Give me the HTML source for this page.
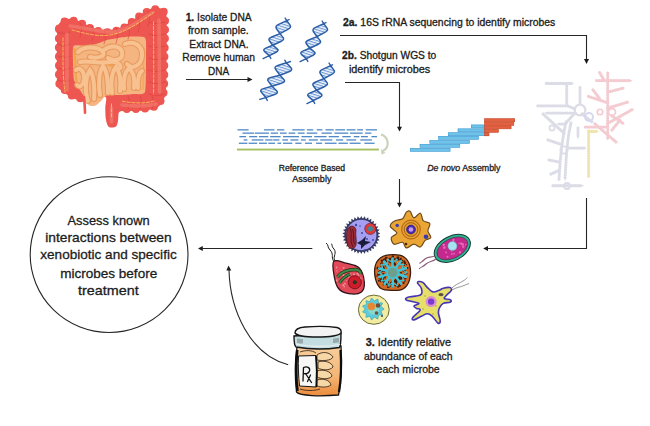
<!DOCTYPE html>
<html><head><meta charset="utf-8">
<style>
html,body{margin:0;padding:0;background:#fff;width:650px;height:426px;overflow:hidden;}
svg{position:absolute;left:0;top:0;display:block;}
text{font-family:"Liberation Sans",sans-serif;fill:#1c1c1c;stroke:#1c1c1c;stroke-width:0.3px;}
</style></head><body>
<svg width="650" height="426" viewBox="0 0 650 426">
<defs><filter id="sb" x="-5%" y="-5%" width="110%" height="110%"><feGaussianBlur stdDeviation="0.4"/></filter></defs>
<rect width="650" height="426" fill="#fff"/>
<g id="rrna" opacity="0.85" fill="none" stroke-linecap="round" stroke-linejoin="round">
  <g stroke="#d9d9e5" stroke-width="1.3">
    <path d="M546.3,83.3 H573"/>
    <path d="M566.7,83.3 V104.4"/>
    <path d="M537.8,105.8 H567.4 L575,109"/>
    <path d="M580,87.5 V103"/>
    <path d="M575,113 L545,113"/>
    <path d="M575,113 L565,124 L557.5,124"/>
    <path d="M543,114 L565,134"/>
    <path d="M566,122 C562,140 560,160 559,180"/>
    <path d="M571,123 C567,140 566,160 565,180"/>
    <path d="M553,185.7 H583"/>
    <path d="M569,148 H585"/>
    <path d="M548,140 L560,144"/>
    <path d="M549,160 L559,162"/>
    <path d="M551,174 L560,170"/>
    <path d="M578,128 V138"/>
    <path d="M582,114 L592,122"/>
  </g>
  <g stroke="#d6d6e3" stroke-width="3.2" stroke-dasharray="0.1 2.4">
    <path d="M546.3,83.3 H573"/>
    <path d="M566.7,83.3 V104.4"/>
    <path d="M537.8,105.8 H567.4 L575,109"/>
    <path d="M580,87.5 V103"/>
    <path d="M575,113 L545,113"/>
    <path d="M575,113 L565,124 L557.5,124"/>
    <path d="M543,114 L565,134"/>
    <path d="M566,122 C562,140 560,160 559,180"/>
    <path d="M571,123 C567,140 566,160 565,180"/>
    <path d="M553,185.7 H583"/>
    <path d="M569,148 H585"/>
    <path d="M548,140 L560,144"/>
    <path d="M549,160 L559,162"/>
    <path d="M551,174 L560,170"/>
    <path d="M578,128 V138"/>
    <path d="M582,114 L592,122"/>
  </g>
  <circle cx="580" cy="110" r="5.4" stroke="#d6d6e3" stroke-width="2.2"/>
  <circle cx="564" cy="150" r="3.6" stroke="#d6d6e3" stroke-width="1.8"/>
  <circle cx="567" cy="186" r="3" stroke="#d6d6e3" stroke-width="1.8"/>
  <circle cx="552" cy="128" r="2.6" stroke="#d6d6e3" stroke-width="1.6"/>
  <circle cx="589" cy="117" r="4" stroke="#cfd3ec" stroke-width="2"/>
  <g stroke="#f3c6cc" stroke-width="1.3">
    <path d="M607.7,73 V139"/>
    <path d="M596.6,80.6 H631.4"/>
    <path d="M599.7,72.7 L604,80"/>
    <path d="M588.6,96.5 L607.7,102.8"/>
    <path d="M593,90 L600,99"/>
    <path d="M607.7,123.4 L633,109.1"/>
    <path d="M595,124 L616,142"/>
    <path d="M585.5,127 H607.7"/>
    <path d="M612,130 L620,120"/>
    <path d="M608,92 L624,88"/>
    <path d="M608,108 L628,102"/>
    <path d="M612,116 L624,124"/>
  </g>
  <g stroke="#f1c2c8" stroke-width="3.2" stroke-dasharray="0.1 2.4">
    <path d="M607.7,73 V139"/>
    <path d="M596.6,80.6 H631.4"/>
    <path d="M599.7,72.7 L604,80"/>
    <path d="M588.6,96.5 L607.7,102.8"/>
    <path d="M593,90 L600,99"/>
    <path d="M607.7,123.4 L633,109.1"/>
    <path d="M595,124 L616,142"/>
    <path d="M585.5,127 H607.7"/>
    <path d="M612,130 L620,120"/>
    <path d="M608,92 L624,88"/>
    <path d="M608,108 L628,102"/>
    <path d="M612,116 L624,124"/>
  </g>
  <circle cx="612" cy="112" r="3.5" stroke="#f1c2c8" stroke-width="1.8"/>
  <circle cx="600" cy="112" r="2.8" stroke="#f1c2c8" stroke-width="1.6"/>
  <g stroke="#f0e2a8" stroke-width="1.3"><path d="M588.6,131 V177.3"/><path d="M588.6,131.3 H598"/></g>
  <g stroke="#efdfa0" stroke-width="3.2" stroke-dasharray="0.1 2.4"><path d="M588.6,131 V177.3"/><path d="M588.6,131.3 H598"/></g>
</g>

<defs><filter id="soft" x="-10%" y="-10%" width="120%" height="120%"><feGaussianBlur stdDeviation="0.45"/></filter></defs><g id="intestine" filter="url(#soft)">
<path d="M57.5,27.0 C58.1,24.2 59.7,22.6 61.0,21.4 C62.3,20.2 63.9,19.3 66.0,19.0 C68.1,18.7 72.2,18.8 75.0,19.5 C77.8,20.2 82.2,22.7 85.0,24.0 C87.8,25.3 90.6,27.1 94.0,28.0 C97.4,28.9 103.6,30.1 107.7,30.0 C111.8,29.9 117.8,28.7 121.5,27.2 C125.2,25.7 129.5,22.3 132.6,20.2 C135.7,18.1 139.2,15.2 142.3,13.3 C145.4,11.4 150.6,8.5 153.4,7.8 C156.2,7.1 159.1,7.9 161.0,8.5 C162.9,9.1 165.1,8.8 166.0,12.0 C166.9,15.2 166.7,22.8 166.8,30.0 C166.9,37.2 166.6,51.0 166.5,60.0 C166.4,69.0 166.5,83.8 166.0,90.0 C165.5,96.2 164.2,98.5 163.0,101.0 C161.8,103.5 160.2,105.7 158.0,107.0 C155.8,108.3 151.8,109.4 148.4,110.0 C145.0,110.6 138.4,110.8 135.0,111.0 C131.6,111.2 127.7,110.9 125.4,111.0 C123.2,111.1 121.0,111.0 120.0,111.5 C119.0,112.0 118.8,112.6 118.5,114.0 C118.2,115.4 118.4,119.1 118.0,121.0 C117.6,122.9 117.3,125.6 116.0,126.5 C114.7,127.4 110.5,128.0 109.0,127.0 C107.5,126.0 106.6,122.8 106.0,120.0 C105.4,117.2 105.3,111.4 105.3,108.0 C105.3,104.6 106.8,99.3 106.0,97.5 C105.2,95.7 103.0,96.2 100.0,96.0 C97.0,95.8 89.2,95.4 86.0,96.0 C82.8,96.6 81.1,99.6 78.7,99.8 C76.3,100.0 72.7,98.3 70.3,97.0 C67.9,95.7 64.9,92.7 63.0,91.0 C61.1,89.3 58.3,90.1 57.4,85.4 C56.5,80.8 56.9,66.8 56.8,60.0 C56.7,53.2 56.9,45.0 57.0,40.0 C57.1,35.0 56.9,29.8 57.5,27.0Z" fill="#ee5651"/>
<path d="M59.2,28.4 C59.7,27.5 61.4,24.1 62.6,22.9 C63.8,21.8 65.4,20.9 67.5,20.6 C69.5,20.4 73.5,20.5 76.3,21.3 C79.1,22.1 83.3,24.6 86.1,25.9 C88.9,27.2 91.6,29.1 94.9,30.0 C98.1,31.0 104.0,32.3 107.9,32.2 C111.8,32.1 117.4,30.8 121.0,29.3 C124.6,27.8 128.7,24.3 131.7,22.2 C134.8,20.1 138.2,17.1 141.2,15.2 C144.3,13.3 149.4,10.4 152.2,9.6 C154.9,8.9 157.8,9.6 159.6,10.2 C161.5,10.8 163.7,10.4 164.5,13.6 C165.3,16.8 165.0,24.3 165.0,31.3 C165.0,38.3 164.5,51.7 164.3,60.4 C164.2,69.1 164.4,83.3 163.9,89.2 C163.5,95.1 162.3,97.4 161.1,99.9 C160.0,102.3 158.4,104.3 156.3,105.6 C154.2,106.9 150.3,107.9 146.9,108.4 C143.6,108.9 137.2,109.0 133.9,109.1 C130.6,109.2 126.8,108.9 124.7,108.9 C122.5,109.0 120.3,109.3 119.6,109.3" fill="none" stroke="#ee5651" stroke-width="8" stroke-dasharray="0 9" stroke-linecap="round"/>
<path d="M80.3,98.3 C79.1,97.9 74.4,97.0 72.1,95.8 C69.8,94.5 66.9,91.8 65.0,90.1 C63.1,88.5 60.4,89.2 59.5,84.8 C58.6,80.3 59.1,66.9 59.0,60.4 C58.9,53.8 58.9,45.8 58.9,41.0 C59.0,36.2 58.7,31.1 59.2,28.4 C59.8,25.6 62.1,23.7 62.6,22.9" fill="none" stroke="#ee5651" stroke-width="8" stroke-dasharray="0 9" stroke-linecap="round"/>
<path d="M73.5,46.0 C74.6,44.5 81.8,45.7 84.0,45.5 C86.2,45.3 93.7,44.5 96.0,44.0 C98.3,43.5 104.8,40.6 107.0,40.0 C109.2,39.4 115.7,38.4 118.0,38.0 C120.3,37.6 127.4,36.6 130.0,36.5 C132.6,36.4 142.4,36.5 144.0,37.0 C145.6,37.5 145.8,39.7 146.0,42.0 C146.2,44.3 146.1,55.0 146.0,60.0 C145.9,65.0 146.2,88.6 145.0,92.0 C143.8,95.4 136.4,93.7 134.0,94.0 C131.6,94.3 123.7,94.9 121.0,95.0 C118.3,95.1 109.0,94.4 107.0,95.0 C105.0,95.6 102.1,100.0 101.0,101.0 C99.9,102.0 96.8,105.0 95.6,105.5 C94.4,106.0 90.4,106.2 89.3,105.5 C88.2,104.8 85.9,99.5 85.0,98.0 C84.1,96.5 81.1,91.8 80.0,90.0 C78.9,88.2 74.7,83.0 74.0,80.0 C73.3,77.0 73.0,63.4 73.0,60.0 C73.0,56.6 72.4,47.5 73.5,46.0Z" fill="#f4b580"/>
<path d="M74,48 C76,60 75,75 77,88" fill="none" stroke="#f3a23a" stroke-width="2.2" opacity="0.8"/>
<path d="M104,62 C108,66 112,66 116,68" fill="none" stroke="#f2a43c" stroke-width="2" opacity="0.8"/>
<path d="M144,48 C143,62 144,78 143,90" fill="none" stroke="#f3a23a" stroke-width="1.6" opacity="0.6"/>
<path d="M78,52 C84,46 98,46 103,52 C106,56 98,59 90,57" fill="none" stroke="#e69356" stroke-width="6.2" stroke-linecap="round" opacity="0.8"/>
<path d="M104,50 C110,45 120,45 122,52 C124,60 114,62 108,58" fill="none" stroke="#e69356" stroke-width="6.2" stroke-linecap="round" opacity="0.8"/>
<path d="M125,44 C134,40 143,46 142,56 C141,66 132,70 127,64" fill="none" stroke="#e69356" stroke-width="6.2" stroke-linecap="round" opacity="0.8"/>
<path d="M80,62 C88,60 100,64 110,62 C118,61 122,66 120,68" fill="none" stroke="#e69356" stroke-width="6.2" stroke-linecap="round" opacity="0.8"/>
<path d="M88,101 C84,90 86,76 90,70 C94,76 95,90 94,99" fill="none" stroke="#e69356" stroke-width="6.2" stroke-linecap="round" opacity="0.8"/>
<path d="M100,95 C98,84 99,72 103,66 C108,72 108,84 108,93" fill="none" stroke="#e69356" stroke-width="6.2" stroke-linecap="round" opacity="0.8"/>
<path d="M112,93 C110,82 112,72 116,67 C120,72 121,82 120,91" fill="none" stroke="#e69356" stroke-width="6.2" stroke-linecap="round" opacity="0.8"/>
<path d="M124,89 C123,80 125,72 129,68 C134,72 135,80 134,88" fill="none" stroke="#e69356" stroke-width="6.2" stroke-linecap="round" opacity="0.8"/>
<path d="M138,88 C137,80 139,73 142,71" fill="none" stroke="#e69356" stroke-width="6.2" stroke-linecap="round" opacity="0.8"/>
<path d="M76,70 C80,66 85,72 84,80 C83,86 79,88 77,85" fill="none" stroke="#e69356" stroke-width="6.2" stroke-linecap="round" opacity="0.8"/>
<path d="M78,52 C84,46 98,46 103,52 C106,56 98,59 90,57" fill="none" stroke="#f8c596" stroke-width="4" stroke-linecap="round" opacity="0.9"/>
<path d="M104,50 C110,45 120,45 122,52 C124,60 114,62 108,58" fill="none" stroke="#f8c596" stroke-width="4" stroke-linecap="round" opacity="0.9"/>
<path d="M125,44 C134,40 143,46 142,56 C141,66 132,70 127,64" fill="none" stroke="#f8c596" stroke-width="4" stroke-linecap="round" opacity="0.9"/>
<path d="M80,62 C88,60 100,64 110,62 C118,61 122,66 120,68" fill="none" stroke="#f8c596" stroke-width="4" stroke-linecap="round" opacity="0.9"/>
<path d="M88,101 C84,90 86,76 90,70 C94,76 95,90 94,99" fill="none" stroke="#f8c596" stroke-width="4" stroke-linecap="round" opacity="0.9"/>
<path d="M100,95 C98,84 99,72 103,66 C108,72 108,84 108,93" fill="none" stroke="#f8c596" stroke-width="4" stroke-linecap="round" opacity="0.9"/>
<path d="M112,93 C110,82 112,72 116,67 C120,72 121,82 120,91" fill="none" stroke="#f8c596" stroke-width="4" stroke-linecap="round" opacity="0.9"/>
<path d="M124,89 C123,80 125,72 129,68 C134,72 135,80 134,88" fill="none" stroke="#f8c596" stroke-width="4" stroke-linecap="round" opacity="0.9"/>
<path d="M138,88 C137,80 139,73 142,71" fill="none" stroke="#f8c596" stroke-width="4" stroke-linecap="round" opacity="0.9"/>
<path d="M76,70 C80,66 85,72 84,80 C83,86 79,88 77,85" fill="none" stroke="#f8c596" stroke-width="4" stroke-linecap="round" opacity="0.9"/>
<g fill="none" stroke="#d9403e" stroke-width="1.1" opacity="0.55" stroke-linecap="round"><path d="M58,32 C62,34 66,34 70,32"/><path d="M58,44 C62,46 66,46 70,44"/><path d="M58,56 C62,58 66,58 70,56"/><path d="M58,68 C62,70 66,70 70,68"/><path d="M58,80 C62,82 66,82 70,80"/><path d="M149,22 C154,24 159,24 165,22"/><path d="M149,34 C154,36 159,36 165,34"/><path d="M149,46 C154,48 159,48 165,46"/><path d="M149,58 C154,60 159,60 165,58"/><path d="M149,70 C154,72 159,72 165,70"/><path d="M149,82 C154,84 159,84 165,82"/><path d="M149,94 C154,96 159,96 165,94"/><path d="M80,22 C82,27 82,32 80,37"/><path d="M92,26 C94,31 94,36 92,41"/><path d="M104,29 C106,34 106,39 104,44"/><path d="M116,28 C118,33 118,38 116,43"/><path d="M128,24 C130,29 130,34 128,39"/><path d="M138,17 C140,22 140,27 138,32"/><path d="M148,11 C150,16 150,21 148,26"/><path d="M128,96 C130,100 130,104 128,109"/><path d="M140,96 C142,100 142,104 140,109"/><path d="M152,96 C154,100 154,104 152,109"/></g>
<g fill="none" stroke="#f48676" stroke-width="3.5" opacity="0.55" stroke-linecap="round">
<path d="M67,34 L67,90"/><path d="M70,26 C88,28 102,33 114,32 C126,31 138,21 152,13"/><path d="M159,20 L159.5,92"/><path d="M156,104 C145,107 132,106 122,105"/><path d="M111.5,108 L111.5,122"/>
</g>
<g fill="none" stroke="#f8c35a" stroke-width="0.9" stroke-dasharray="3 1.8" stroke-linecap="round">
<path d="M63,38 C63,55 62.5,75 65,92"/><path d="M72,30 C84,33 96,37 110,35 C124,33 138,24 154,12"/><path d="M153.5,22 C153.5,45 154,70 153.5,94"/><path d="M154,101 C144,104 132,103 121,101"/><path d="M111.5,104 L111.5,118"/>
</g>
<path d="M84,97 C84.5,103 85,108 85,112.7" fill="none" stroke="#ee5651" stroke-width="2.6" stroke-linecap="round"/>
</g>
<g filter="url(#sb)">
<defs><pattern id="hatch" width="2.6" height="2.6" patternUnits="userSpaceOnUse" patternTransform="rotate(18)"><rect width="2.6" height="2.6" fill="#f3f6fc"/><rect y="0" width="2.6" height="1.1" fill="#6a98d6"/></pattern></defs>
<g id="dna">
<path d="M272.70,45.20 C269.09,46.74 265.80,48.15 265.80,48.15 Q262.40,49.60 264.68,51.58 L269.30,55.60 L276.07,52.25 Q279.40,50.60 277.19,48.82 Z" fill="url(#hatch)" stroke="#2b5ea6" stroke-width="1.5" stroke-linejoin="round"/>
<path d="M280.00,33.60 C275.71,35.35 271.79,36.95 271.79,36.95 Q267.75,38.60 269.38,40.78 L272.70,45.20 L280.77,41.45 Q284.75,39.60 283.18,37.62 Z" fill="url(#hatch)" stroke="#2b5ea6" stroke-width="1.5" stroke-linejoin="round"/>
<path d="M286.70,20.60 C282.52,22.60 278.69,24.42 278.69,24.42 Q274.75,26.30 276.48,28.71 L280.00,33.60 L287.87,29.38 Q291.75,27.30 290.08,25.09 Z" fill="url(#hatch)" stroke="#2b5ea6" stroke-width="1.5" stroke-linejoin="round"/>
<path d="M263.1,58.6 L269.3,55.6 L270.8,58.4" stroke="#2b5ea6" stroke-width="1.4" stroke-linecap="round" fill="none"/>
<path d="M285.1,18.0 L286.7,20.6 L289.0,19.6" stroke="#2b5ea6" stroke-width="1.4" stroke-linecap="round" fill="none"/>
<path d="M309.70,48.20 C306.09,49.74 302.80,51.15 302.80,51.15 Q299.40,52.60 301.68,54.58 L306.30,58.60 L313.07,55.25 Q316.40,53.60 314.19,51.82 Z" fill="url(#hatch)" stroke="#2b5ea6" stroke-width="1.5" stroke-linejoin="round"/>
<path d="M317.00,36.60 C312.71,38.35 308.79,39.95 308.79,39.95 Q304.75,41.60 306.38,43.78 L309.70,48.20 L317.77,44.45 Q321.75,42.60 320.18,40.62 Z" fill="url(#hatch)" stroke="#2b5ea6" stroke-width="1.5" stroke-linejoin="round"/>
<path d="M323.70,23.60 C319.52,25.60 315.69,27.42 315.69,27.42 Q311.75,29.30 313.48,31.71 L317.00,36.60 L324.87,32.38 Q328.75,30.30 327.08,28.09 Z" fill="url(#hatch)" stroke="#2b5ea6" stroke-width="1.5" stroke-linejoin="round"/>
<path d="M300.1,61.6 L306.3,58.6 L307.8,61.4" stroke="#2b5ea6" stroke-width="1.4" stroke-linecap="round" fill="none"/>
<path d="M322.1,21.0 L323.7,23.6 L326,22.6" stroke="#2b5ea6" stroke-width="1.4" stroke-linecap="round" fill="none"/>
<path d="M272.00,86.30 C267.56,87.51 263.49,88.61 263.49,88.61 Q259.30,89.75 261.44,92.34 L265.80,97.60 L274.58,94.55 Q278.90,93.05 276.62,90.82 Z" fill="url(#hatch)" stroke="#2b5ea6" stroke-width="1.5" stroke-linejoin="round"/>
<path d="M280.00,75.20 C275.24,76.37 270.89,77.44 270.89,77.44 Q266.40,78.55 268.25,81.11 L272.00,86.30 L281.38,83.32 Q286.00,81.85 284.02,79.66 Z" fill="url(#hatch)" stroke="#2b5ea6" stroke-width="1.5" stroke-linejoin="round"/>
<path d="M286.40,62.80 C281.92,64.20 277.82,65.48 277.82,65.48 Q273.60,66.80 275.71,69.57 L280.00,75.20 L288.84,71.78 Q293.20,70.10 290.96,67.69 Z" fill="url(#hatch)" stroke="#2b5ea6" stroke-width="1.5" stroke-linejoin="round"/>
<path d="M259.8,99.4 L265.8,97.6 L267.3,100.4" stroke="#2b5ea6" stroke-width="1.4" stroke-linecap="round" fill="none"/>
<path d="M284.8,60.2 L286.4,62.8 L290.5,61.5" stroke="#2b5ea6" stroke-width="1.4" stroke-linecap="round" fill="none"/>
<path d="M316.60,90.20 C312.99,91.74 309.70,93.15 309.70,93.15 Q306.30,94.60 308.58,96.58 L313.20,100.60 L319.97,97.25 Q323.30,95.60 321.09,93.82 Z" fill="url(#hatch)" stroke="#2b5ea6" stroke-width="1.5" stroke-linejoin="round"/>
<path d="M323.90,78.60 C319.61,80.35 315.69,81.95 315.69,81.95 Q311.65,83.60 313.28,85.78 L316.60,90.20 L324.67,86.45 Q328.65,84.60 327.08,82.62 Z" fill="url(#hatch)" stroke="#2b5ea6" stroke-width="1.5" stroke-linejoin="round"/>
<path d="M330.60,65.60 C326.42,67.59 322.59,69.42 322.59,69.42 Q318.65,71.30 320.38,73.71 L323.90,78.60 L331.77,74.38 Q335.65,72.30 333.98,70.09 Z" fill="url(#hatch)" stroke="#2b5ea6" stroke-width="1.5" stroke-linejoin="round"/>
<path d="M307,103.6 L313.2,100.6 L314.7,103.4" stroke="#2b5ea6" stroke-width="1.4" stroke-linecap="round" fill="none"/>
<path d="M329.0,63.0 L330.6,65.6 L332.5,64.8" stroke="#2b5ea6" stroke-width="1.4" stroke-linecap="round" fill="none"/>
</g>
<g id="assembly">
<rect x="237.5" y="129.2" width="11.1" height="1.3" fill="#4f89c8"/>
<rect x="264.0" y="129.2" width="10.5" height="1.3" fill="#4f89c8"/>
<rect x="277.0" y="129.2" width="7.3" height="1.3" fill="#4f89c8"/>
<rect x="292.3" y="129.2" width="12.3" height="1.3" fill="#4f89c8"/>
<rect x="306.9" y="129.2" width="6.4" height="1.3" fill="#4f89c8"/>
<rect x="316.7" y="129.2" width="5.7" height="1.3" fill="#4f89c8"/>
<rect x="325.5" y="129.2" width="8.3" height="1.3" fill="#4f89c8"/>
<rect x="335.4" y="129.2" width="9.6" height="1.3" fill="#4f89c8"/>
<rect x="346.6" y="129.2" width="8.9" height="1.3" fill="#4f89c8"/>
<rect x="357.2" y="129.2" width="5.8" height="1.3" fill="#4f89c8"/>
<rect x="365.8" y="129.2" width="11.2" height="1.3" fill="#4f89c8"/>
<rect x="242.5" y="132.5" width="11.6" height="1.3" fill="#4f89c8"/>
<rect x="254.8" y="132.5" width="14.1" height="1.3" fill="#4f89c8"/>
<rect x="270.7" y="132.5" width="7.3" height="1.3" fill="#4f89c8"/>
<rect x="280.0" y="132.5" width="6.7" height="1.3" fill="#4f89c8"/>
<rect x="288.6" y="132.5" width="6.7" height="1.3" fill="#4f89c8"/>
<rect x="297.8" y="132.5" width="6.8" height="1.3" fill="#4f89c8"/>
<rect x="306.7" y="132.5" width="10.6" height="1.3" fill="#4f89c8"/>
<rect x="321.6" y="132.5" width="10.2" height="1.3" fill="#4f89c8"/>
<rect x="334.5" y="132.5" width="13.8" height="1.3" fill="#4f89c8"/>
<rect x="350.0" y="132.5" width="12.7" height="1.3" fill="#4f89c8"/>
<rect x="365.1" y="132.5" width="6.3" height="1.3" fill="#4f89c8"/>
<rect x="239.4" y="136.0" width="6.7" height="1.3" fill="#4f89c8"/>
<rect x="249.2" y="136.0" width="8.0" height="1.3" fill="#4f89c8"/>
<rect x="259.0" y="136.0" width="9.3" height="1.3" fill="#4f89c8"/>
<rect x="270.1" y="136.0" width="10.5" height="1.3" fill="#4f89c8"/>
<rect x="283.0" y="136.0" width="16.0" height="1.3" fill="#4f89c8"/>
<rect x="301.5" y="136.0" width="10.5" height="1.3" fill="#4f89c8"/>
<rect x="314.3" y="136.0" width="12.3" height="1.3" fill="#4f89c8"/>
<rect x="328.7" y="136.0" width="10.2" height="1.3" fill="#4f89c8"/>
<rect x="342.3" y="136.0" width="8.4" height="1.3" fill="#4f89c8"/>
<rect x="353.8" y="136.0" width="5.6" height="1.3" fill="#4f89c8"/>
<rect x="361.0" y="136.0" width="6.9" height="1.3" fill="#4f89c8"/>
<rect x="371.4" y="136.0" width="5.6" height="1.3" fill="#4f89c8"/>
<rect x="243.7" y="139.3" width="3.7" height="1.3" fill="#4f89c8"/>
<rect x="251.7" y="139.3" width="11.7" height="1.3" fill="#4f89c8"/>
<rect x="265.2" y="139.3" width="7.4" height="1.3" fill="#4f89c8"/>
<rect x="273.2" y="139.3" width="6.2" height="1.3" fill="#4f89c8"/>
<rect x="282.4" y="139.3" width="5.6" height="1.3" fill="#4f89c8"/>
<rect x="290.4" y="139.3" width="8.0" height="1.3" fill="#4f89c8"/>
<rect x="300.9" y="139.3" width="4.9" height="1.3" fill="#4f89c8"/>
<rect x="308.8" y="139.3" width="9.1" height="1.3" fill="#4f89c8"/>
<rect x="320.2" y="139.3" width="12.1" height="1.3" fill="#4f89c8"/>
<rect x="336.0" y="139.3" width="7.2" height="1.3" fill="#4f89c8"/>
<rect x="346.4" y="139.3" width="9.7" height="1.3" fill="#4f89c8"/>
<rect x="360.3" y="139.3" width="11.6" height="1.3" fill="#4f89c8"/>
<rect x="238.8" y="142.6" width="8.6" height="1.3" fill="#4f89c8"/>
<rect x="248.6" y="142.6" width="8.6" height="1.3" fill="#4f89c8"/>
<rect x="259.0" y="142.6" width="8.0" height="1.3" fill="#4f89c8"/>
<rect x="268.3" y="142.6" width="6.7" height="1.3" fill="#4f89c8"/>
<rect x="277.5" y="142.6" width="3.7" height="1.3" fill="#4f89c8"/>
<rect x="283.0" y="142.6" width="9.3" height="1.3" fill="#4f89c8"/>
<rect x="295.3" y="142.6" width="6.2" height="1.3" fill="#4f89c8"/>
<rect x="305.0" y="142.6" width="7.0" height="1.3" fill="#4f89c8"/>
<rect x="316.0" y="142.6" width="6.1" height="1.3" fill="#4f89c8"/>
<rect x="324.8" y="142.6" width="11.8" height="1.3" fill="#4f89c8"/>
<rect x="338.5" y="142.6" width="9.4" height="1.3" fill="#4f89c8"/>
<rect x="349.6" y="142.6" width="11.0" height="1.3" fill="#4f89c8"/>
<rect x="364.4" y="142.6" width="10.2" height="1.3" fill="#4f89c8"/>
<rect x="236.9" y="148.6" width="142" height="1.9" fill="#a6bf62"/>
<path d="M381,134.5 C389,137 390,147 383,151" fill="none" stroke="#c9d3b8" stroke-width="2.2"/>
<path d="M381,149 L385.5,153 L381.5,154.5 Z" fill="#c9d3b8"/>
<rect x="410.3" y="148.3" width="39.8" height="3" fill="#6ec3ea" stroke="#3b97cf" stroke-width="0.6"/>
<rect x="420" y="144.3" width="39.8" height="3" fill="#6ec3ea" stroke="#3b97cf" stroke-width="0.6"/>
<rect x="429.8" y="140.4" width="39.8" height="3" fill="#6ec3ea" stroke="#3b97cf" stroke-width="0.6"/>
<rect x="438.6" y="136.3" width="39.8" height="3" fill="#6ec3ea" stroke="#3b97cf" stroke-width="0.6"/>
<rect x="448.3" y="132.7" width="39.8" height="3" fill="#6ec3ea" stroke="#3b97cf" stroke-width="0.6"/>
<rect x="458" y="128.8" width="26.6" height="3" fill="#6ec3ea" stroke="#3b97cf" stroke-width="0.6"/>
<rect x="471.3" y="124.9" width="13.3" height="3" fill="#6ec3ea" stroke="#3b97cf" stroke-width="0.6"/>
<rect x="484.6" y="118.7" width="30.1" height="3" fill="#e4603f" stroke="#c44424" stroke-width="0.6"/>
<rect x="484.6" y="122.3" width="29.2" height="3" fill="#e4603f" stroke="#c44424" stroke-width="0.6"/>
<rect x="484.6" y="125.8" width="26.5" height="3" fill="#e4603f" stroke="#c44424" stroke-width="0.6"/>
<rect x="484.6" y="129.3" width="13.8" height="3" fill="#e4603f" stroke="#c44424" stroke-width="0.6"/>
<rect x="484.6" y="132.8" width="4.4" height="3" fill="#e4603f" stroke="#c44424" stroke-width="0.6"/>
</g>
<g id="microbes">
<path d="M377.7,235.0 L380.2,236.8 L377.4,238.0 L379.6,240.2 L376.6,240.9 L378.3,243.5 L375.2,243.6 L376.5,246.5 L373.4,246.0 L374.1,249.0 L371.2,248.1 L371.3,251.2 L368.6,249.7 L368.2,252.7 L365.8,250.8 L364.8,253.7 L362.8,251.3 L361.3,254.0 L359.8,251.3 L357.8,253.7 L356.8,250.8 L354.4,252.7 L354.0,249.7 L351.3,251.2 L351.4,248.1 L348.5,249.0 L349.2,246.0 L346.1,246.5 L347.4,243.6 L344.3,243.5 L346.0,240.9 L343.0,240.2 L345.2,238.0 L342.4,236.8 L344.9,235.0 L342.4,233.2 L345.2,232.0 L343.0,229.8 L346.0,229.1 L344.3,226.5 L347.4,226.4 L346.1,223.5 L349.2,224.0 L348.5,221.0 L351.4,221.9 L351.3,218.8 L354.0,220.3 L354.4,217.3 L356.8,219.2 L357.8,216.3 L359.8,218.7 L361.3,216.0 L362.8,218.7 L364.8,216.3 L365.8,219.2 L368.2,217.3 L368.6,220.3 L371.3,218.8 L371.2,221.9 L374.1,221.0 L373.4,224.0 L376.5,223.5 L375.2,226.4 L378.3,226.5 L376.6,229.1 L379.6,229.8 L377.4,232.0 L380.2,233.2Z" fill="#3a3f66"/>
<circle cx="361.3" cy="235.0" r="15.799999999999999" fill="#a69ef0" stroke="#353a60" stroke-width="1.3"/>
<path d="M347.5,229 C350,225 355,225 356,230 C355,235 357,240 356,245 C355,249 350,250 348,246 C346,241 346,234 347.5,229 Z" fill="#9a2a36" stroke="#4a1018" stroke-width="0.7"/>
<path d="M350,228 C353,234 349,240 353,247 M352.5,229 C355,236 352,241 355,244" stroke="#5a1420" stroke-width="0.9" fill="none"/>
<circle cx="370.3" cy="228.8" r="5.6" fill="#e03a3a" stroke="#5a1a2a" stroke-width="0.6"/>
<circle cx="370.3" cy="228.8" r="2.6" fill="#3b8a9c"/>
<path d="M357,243 L362,240 L366,236 L365,241 L371,242 L365,245 L361,249 L361,245 Z" fill="#1a1a3a"/>
<circle cx="356" cy="225" r="1.2" fill="#3a48a8"/>
<circle cx="362" cy="233" r="1" fill="#3a48a8"/>
<circle cx="367" cy="239" r="0.9" fill="#3a48a8"/>
<circle cx="360" cy="226" r="0.8" fill="#3a48a8"/>
<circle cx="373" cy="240" r="1" fill="#3a48a8"/>
<circle cx="365" cy="250" r="0.9" fill="#3a48a8"/>
<circle cx="355" cy="240" r="0.8" fill="#3a48a8"/>
<path d="M410.1,211.3 C411.4,212.2 412.1,217.6 413.8,217.9 C415.5,218.2 418.8,212.7 420.4,213.2 C422.0,213.7 421.6,219.0 423.2,220.7 C424.8,222.4 429.0,221.8 429.8,223.5 C430.6,225.2 427.7,228.7 427.9,231.0 C428.1,233.3 431.3,236.0 430.8,237.6 C430.3,239.2 426.8,238.8 425.1,240.4 C423.4,242.0 422.3,246.4 420.4,247.0 C418.5,247.6 416.1,244.0 413.8,244.2 C411.5,244.3 408.2,248.2 406.3,247.9 C404.4,247.6 404.6,242.9 402.6,242.3 C400.6,241.7 396.0,245.0 394.1,244.2 C392.2,243.4 390.8,239.5 391.3,237.6 C391.8,235.7 397.1,234.8 396.9,232.9 C396.7,231.0 390.6,228.3 390.3,226.3 C390.0,224.3 392.9,221.9 395.0,220.7 C397.1,219.4 400.7,220.2 402.6,218.8 C404.5,217.4 405.1,213.4 406.3,212.2 C407.6,210.9 408.9,210.4 410.1,211.3Z" fill="#eaa634" stroke="#6e4a1c" stroke-width="1.2"/>
<circle cx="411" cy="229.5" r="9.3" fill="none" stroke="#b86a18" stroke-width="1.2"/>
<circle cx="411" cy="229.5" r="6.8" fill="none" stroke="#b06818" stroke-width="1.2"/>
<circle cx="411" cy="229.5" r="4.4" fill="#4a2ab8" stroke="#2a1a70" stroke-width="0.8"/>
<circle cx="411" cy="229.5" r="2.3" fill="#c89ae8"/>
<circle cx="397.2" cy="225.4" r="1.7" fill="#3a3ab0"/>
<circle cx="426" cy="236.7" r="2.3" fill="#3a3ab0"/>
<circle cx="406" cy="244" r="1.3" fill="#4a2a10"/>
<g transform="rotate(-27 452.3 248.4)">
<ellipse cx="452.3" cy="248.4" rx="19.3" ry="12.3" fill="#2fb58e" stroke="#173a36" stroke-width="1"/>
<ellipse cx="452.3" cy="248.4" rx="16.6" ry="9.8" fill="#c42a8e" stroke="#1a3a3a" stroke-width="0.5"/>
<circle cx="445.0" cy="249.1" r="0.9" fill="#e86ab8"/>
<circle cx="455.2" cy="250.4" r="0.6" fill="#e86ab8"/>
<circle cx="445.6" cy="244.1" r="1.3" fill="#e86ab8"/>
<circle cx="451.5" cy="253.8" r="0.9" fill="#e86ab8"/>
<circle cx="456.2" cy="242.8" r="1.0" fill="#e86ab8"/>
<circle cx="462.6" cy="248.8" r="1.1" fill="#e86ab8"/>
<circle cx="457.1" cy="241.4" r="1.1" fill="#e86ab8"/>
<circle cx="454.9" cy="245.2" r="0.6" fill="#e86ab8"/>
<circle cx="462.5" cy="248.0" r="1.1" fill="#e86ab8"/>
<circle cx="462.9" cy="251.8" r="1.2" fill="#e86ab8"/>
<circle cx="449.4" cy="253.2" r="0.9" fill="#e86ab8"/>
<circle cx="450.5" cy="250.4" r="0.8" fill="#e86ab8"/>
<circle cx="452.5" cy="246.6" r="0.8" fill="#e86ab8"/>
<circle cx="454.7" cy="249.7" r="1.2" fill="#e86ab8"/>
<circle cx="457.4" cy="255.3" r="1.2" fill="#e86ab8"/>
<circle cx="466.0" cy="251.1" r="0.7" fill="#e86ab8"/>
<circle cx="463.6" cy="249.5" r="1.1" fill="#e86ab8"/>
<circle cx="444.2" cy="253.7" r="1.0" fill="#e86ab8"/>
<circle cx="446.3" cy="241.4" r="1.2" fill="#e86ab8"/>
<circle cx="460.7" cy="247.0" r="0.7" fill="#e86ab8"/>
</g>
<circle cx="452.4" cy="246" r="4.6" fill="#a6e2f0" stroke="#5a9ab0" stroke-width="0.5"/>
<path d="M434.5,256 C430,258 428,256 425,259 C422,262 421,262 419.5,263.5" fill="none" stroke="#8e5a7a" stroke-width="1.1"/>
<path d="M436,259 C432,262 429,261 426,264 C423,267 421,267 419,268.8" fill="none" stroke="#8e5a7a" stroke-width="1.1"/>
<path d="M333.8,261.3 C335.8,259.1 341.8,262.1 346.0,263.2 C350.2,264.3 356.1,264.8 359.2,267.9 C362.2,271.0 364.0,277.9 364.3,282.0 C364.6,286.1 363.7,290.4 361.1,292.3 C358.5,294.2 352.6,294.2 348.8,293.6 C345.0,293.0 340.9,291.4 338.5,288.5 C336.1,285.6 335.0,280.8 334.2,276.3 C333.4,271.8 331.8,263.5 333.8,261.3Z" fill="#e24a58" stroke="#2a1014" stroke-width="1.2"/>
<circle cx="343.3" cy="285.2" r="1.0" fill="#f7a0a8" opacity="0.8"/>
<circle cx="337.1" cy="281.4" r="0.5" fill="#f7a0a8" opacity="0.8"/>
<circle cx="354.0" cy="274.3" r="1.0" fill="#f7a0a8" opacity="0.8"/>
<circle cx="360.5" cy="278.6" r="1.1" fill="#f7a0a8" opacity="0.8"/>
<circle cx="343.7" cy="267.9" r="0.9" fill="#f7a0a8" opacity="0.8"/>
<circle cx="336.8" cy="270.9" r="0.7" fill="#f7a0a8" opacity="0.8"/>
<circle cx="351.3" cy="269.9" r="0.5" fill="#f7a0a8" opacity="0.8"/>
<circle cx="357.7" cy="273.8" r="1.1" fill="#f7a0a8" opacity="0.8"/>
<circle cx="358.4" cy="275.4" r="0.8" fill="#f7a0a8" opacity="0.8"/>
<circle cx="349.0" cy="282.1" r="0.9" fill="#f7a0a8" opacity="0.8"/>
<circle cx="350.0" cy="281.5" r="1.1" fill="#f7a0a8" opacity="0.8"/>
<circle cx="348.7" cy="276.8" r="0.9" fill="#f7a0a8" opacity="0.8"/>
<circle cx="341.9" cy="273.5" r="1.1" fill="#f7a0a8" opacity="0.8"/>
<circle cx="349.0" cy="279.7" r="0.5" fill="#f7a0a8" opacity="0.8"/>
<circle cx="346.4" cy="280.5" r="0.5" fill="#f7a0a8" opacity="0.8"/>
<circle cx="351.4" cy="281.8" r="0.5" fill="#f7a0a8" opacity="0.8"/>
<circle cx="351.7" cy="277.7" r="0.9" fill="#f7a0a8" opacity="0.8"/>
<circle cx="344.8" cy="283.7" r="0.9" fill="#f7a0a8" opacity="0.8"/>
<circle cx="336.6" cy="267.5" r="0.9" fill="#f7a0a8" opacity="0.8"/>
<circle cx="360.1" cy="272.3" r="0.8" fill="#f7a0a8" opacity="0.8"/>
<circle cx="350.8" cy="274.0" r="0.7" fill="#f7a0a8" opacity="0.8"/>
<circle cx="343.8" cy="275.2" r="0.9" fill="#f7a0a8" opacity="0.8"/>
<circle cx="343.5" cy="275.4" r="1.0" fill="#f7a0a8" opacity="0.8"/>
<circle cx="336.7" cy="280.2" r="0.9" fill="#f7a0a8" opacity="0.8"/>
<circle cx="343.8" cy="271.6" r="1.0" fill="#f7a0a8" opacity="0.8"/>
<circle cx="342.0" cy="270.7" r="0.8" fill="#f7a0a8" opacity="0.8"/>
<circle cx="353.5" cy="268.5" r="0.7" fill="#f7a0a8" opacity="0.8"/>
<circle cx="344.3" cy="286.8" r="0.8" fill="#f7a0a8" opacity="0.8"/>
<circle cx="357.4" cy="270.2" r="0.7" fill="#f7a0a8" opacity="0.8"/>
<circle cx="352.3" cy="288.1" r="0.8" fill="#f7a0a8" opacity="0.8"/>
<path d="M337.5,277 C341,272 348,269.5 356,269.5 C359,270 361,272 360.5,274" fill="none" stroke="#1e3a1e" stroke-width="3.4"/>
<path d="M337.5,277 C341,272 348,269.5 356,269.5 C359,270 361,272 360.5,274" fill="none" stroke="#3f8a44" stroke-width="2"/>
<path d="M339.5,283 C342,279 345,276 350,274" fill="none" stroke="#1e3a1e" stroke-width="3"/>
<path d="M339.5,283 C342,279 345,276 350,274" fill="none" stroke="#3f8a44" stroke-width="1.7"/>
<circle cx="354.8" cy="282.3" r="6.6" fill="#cf1a2c" stroke="#5a0a14" stroke-width="0.7"/>
<circle cx="354.8" cy="282.3" r="2" fill="#1a3a20"/>
<path d="M333.5,261 C331,257 334,254 330,250 C327,247 329,245 326,243" fill="none" stroke="#1a1a1a" stroke-width="1"/>
<path d="M334.5,260.5 C333,256 337,253 334,249 C331,246 333,245 331,243.5" fill="none" stroke="#1a1a1a" stroke-width="1"/>
<path d="M392.6,254.7 C396.4,254.6 401.1,255.1 404.0,257.0 C406.9,258.9 409.0,262.2 409.9,266.0 C410.8,269.8 410.6,276.2 409.5,280.0 C408.4,283.8 405.8,287.3 403.0,289.0 C400.2,290.7 396.3,290.5 392.6,290.4 C388.9,290.3 383.9,290.4 381.0,288.5 C378.1,286.6 376.5,282.8 375.5,279.0 C374.5,275.2 374.3,269.6 375.2,266.0 C376.1,262.4 378.1,259.4 381.0,257.5 C383.9,255.6 388.8,254.8 392.6,254.7Z" fill="#d46a26" stroke="#3a1e0e" stroke-width="1.2"/>
<circle cx="394.0" cy="281.5" r="1.0" fill="#3e1c0c"/>
<circle cx="398.0" cy="286.4" r="1.2" fill="#3e1c0c"/>
<circle cx="396.8" cy="282.1" r="1.2" fill="#3e1c0c"/>
<circle cx="383.3" cy="261.0" r="0.8" fill="#3e1c0c"/>
<circle cx="399.8" cy="280.2" r="1.2" fill="#3e1c0c"/>
<circle cx="391.1" cy="283.4" r="0.9" fill="#3e1c0c"/>
<circle cx="382.5" cy="278.1" r="1.2" fill="#3e1c0c"/>
<circle cx="397.1" cy="279.3" r="1.3" fill="#3e1c0c"/>
<circle cx="404.5" cy="261.4" r="0.9" fill="#3e1c0c"/>
<circle cx="407.7" cy="267.7" r="0.8" fill="#3e1c0c"/>
<circle cx="392.2" cy="257.5" r="1.1" fill="#3e1c0c"/>
<circle cx="382.2" cy="271.4" r="0.8" fill="#3e1c0c"/>
<circle cx="393.8" cy="281.1" r="1.0" fill="#3e1c0c"/>
<circle cx="389.2" cy="287.1" r="0.6" fill="#3e1c0c"/>
<circle cx="404.0" cy="264.7" r="1.2" fill="#3e1c0c"/>
<circle cx="405.1" cy="263.1" r="1.0" fill="#3e1c0c"/>
<circle cx="406.9" cy="273.8" r="0.7" fill="#3e1c0c"/>
<circle cx="388.4" cy="285.6" r="1.0" fill="#3e1c0c"/>
<circle cx="378.9" cy="280.8" r="1.0" fill="#3e1c0c"/>
<circle cx="387.1" cy="281.1" r="1.2" fill="#3e1c0c"/>
<circle cx="378.1" cy="274.7" r="0.8" fill="#3e1c0c"/>
<circle cx="396.7" cy="284.5" r="1.2" fill="#3e1c0c"/>
<circle cx="399.6" cy="285.6" r="1.2" fill="#3e1c0c"/>
<circle cx="397.8" cy="258.5" r="0.6" fill="#3e1c0c"/>
<circle cx="382.0" cy="261.5" r="0.6" fill="#3e1c0c"/>
<circle cx="391.2" cy="282.8" r="1.0" fill="#3e1c0c"/>
<circle cx="382.0" cy="278.2" r="1.1" fill="#3e1c0c"/>
<circle cx="401.1" cy="272.7" r="0.7" fill="#3e1c0c"/>
<circle cx="398.7" cy="278.7" r="1.3" fill="#3e1c0c"/>
<circle cx="397.9" cy="265.7" r="1.0" fill="#3e1c0c"/>
<circle cx="388.3" cy="282.4" r="0.8" fill="#3e1c0c"/>
<circle cx="384.8" cy="262.2" r="0.9" fill="#3e1c0c"/>
<circle cx="396.5" cy="282.7" r="0.7" fill="#3e1c0c"/>
<circle cx="379.4" cy="267.8" r="0.9" fill="#3e1c0c"/>
<circle cx="400.9" cy="277.2" r="0.9" fill="#3e1c0c"/>
<circle cx="381.0" cy="263.7" r="0.9" fill="#3e1c0c"/>
<circle cx="396.8" cy="260.0" r="0.9" fill="#3e1c0c"/>
<circle cx="384.1" cy="281.4" r="1.1" fill="#3e1c0c"/>
<circle cx="380.4" cy="279.3" r="0.9" fill="#3e1c0c"/>
<circle cx="393.0" cy="285.1" r="1.1" fill="#3e1c0c"/>
<circle cx="403.1" cy="277.6" r="0.9" fill="#3e1c0c"/>
<circle cx="404.2" cy="261.7" r="0.9" fill="#3e1c0c"/>
<circle cx="404.4" cy="263.8" r="0.8" fill="#3e1c0c"/>
<circle cx="383.8" cy="274.6" r="1.2" fill="#3e1c0c"/>
<circle cx="384.5" cy="259.4" r="1.2" fill="#3e1c0c"/>
<circle cx="385.6" cy="260.2" r="1.0" fill="#3e1c0c"/>
<circle cx="403.0" cy="280.4" r="0.6" fill="#3e1c0c"/>
<circle cx="401.6" cy="284.0" r="0.6" fill="#3e1c0c"/>
<circle cx="400.0" cy="277.4" r="1.2" fill="#3e1c0c"/>
<circle cx="396.1" cy="280.0" r="1.2" fill="#3e1c0c"/>
<circle cx="403.6" cy="283.1" r="1.1" fill="#3e1c0c"/>
<circle cx="400.9" cy="258.8" r="1.0" fill="#3e1c0c"/>
<circle cx="395.1" cy="264.7" r="1.1" fill="#3e1c0c"/>
<circle cx="378.6" cy="271.6" r="0.7" fill="#3e1c0c"/>
<circle cx="392.5" cy="256.7" r="0.6" fill="#3e1c0c"/>
<circle cx="386.8" cy="284.0" r="1.2" fill="#3e1c0c"/>
<circle cx="393.1" cy="282.1" r="0.8" fill="#3e1c0c"/>
<circle cx="381.9" cy="263.0" r="0.9" fill="#3e1c0c"/>
<circle cx="384.9" cy="281.0" r="0.8" fill="#3e1c0c"/>
<circle cx="385.0" cy="276.9" r="1.0" fill="#3e1c0c"/>
<circle cx="403.9" cy="270.7" r="1.1" fill="#3e1c0c"/>
<circle cx="400.0" cy="284.3" r="1.1" fill="#3e1c0c"/>
<circle cx="386.9" cy="261.6" r="0.9" fill="#3e1c0c"/>
<circle cx="382.9" cy="260.4" r="0.7" fill="#3e1c0c"/>
<circle cx="404.4" cy="280.7" r="1.2" fill="#3e1c0c"/>
<circle cx="380.9" cy="271.3" r="1.1" fill="#3e1c0c"/>
<circle cx="396.6" cy="282.1" r="0.7" fill="#3e1c0c"/>
<circle cx="383.4" cy="267.1" r="0.8" fill="#3e1c0c"/>
<circle cx="386.8" cy="257.6" r="0.8" fill="#3e1c0c"/>
<circle cx="389.4" cy="261.5" r="1.2" fill="#3e1c0c"/>
<circle cx="383.7" cy="267.4" r="0.8" fill="#3e1c0c"/>
<circle cx="404.5" cy="274.3" r="0.9" fill="#3e1c0c"/>
<circle cx="397.8" cy="282.4" r="0.8" fill="#3e1c0c"/>
<circle cx="394.0" cy="263.5" r="1.3" fill="#3e1c0c"/>
<circle cx="379.6" cy="274.3" r="0.9" fill="#3e1c0c"/>
<circle cx="400.2" cy="259.7" r="1.0" fill="#3e1c0c"/>
<circle cx="378.6" cy="274.3" r="1.2" fill="#3e1c0c"/>
<circle cx="381.1" cy="280.9" r="1.3" fill="#3e1c0c"/>
<circle cx="382.9" cy="274.6" r="0.8" fill="#3e1c0c"/>
<circle cx="389.8" cy="259.1" r="1.3" fill="#3e1c0c"/>
<circle cx="398.7" cy="264.6" r="0.7" fill="#3e1c0c"/>
<circle cx="392.1" cy="282.2" r="1.1" fill="#3e1c0c"/>
<circle cx="402.5" cy="260.5" r="0.8" fill="#3e1c0c"/>
<circle cx="399.7" cy="264.6" r="0.9" fill="#3e1c0c"/>
<circle cx="391.4" cy="263.9" r="0.7" fill="#3e1c0c"/>
<circle cx="397.9" cy="263.5" r="0.8" fill="#3e1c0c"/>
<circle cx="380.6" cy="266.0" r="0.6" fill="#3e1c0c"/>
<circle cx="386.7" cy="282.7" r="0.9" fill="#3e1c0c"/>
<circle cx="395.8" cy="285.2" r="1.3" fill="#3e1c0c"/>
<circle cx="382.8" cy="280.6" r="0.7" fill="#3e1c0c"/>
<circle cx="390.5" cy="286.1" r="0.7" fill="#3e1c0c"/>
<circle cx="404.5" cy="262.4" r="0.7" fill="#3e1c0c"/>
<circle cx="403.0" cy="268.6" r="1.1" fill="#3e1c0c"/>
<circle cx="393.1" cy="262.1" r="1.1" fill="#3e1c0c"/>
<circle cx="384.2" cy="260.4" r="0.8" fill="#3e1c0c"/>
<circle cx="393.0" cy="256.4" r="1.1" fill="#3e1c0c"/>
<circle cx="383.9" cy="270.6" r="0.9" fill="#3e1c0c"/>
<circle cx="384.2" cy="283.9" r="1.1" fill="#3e1c0c"/>
<circle cx="383.9" cy="268.7" r="1.1" fill="#3e1c0c"/>
<circle cx="386.1" cy="265.6" r="1.2" fill="#3e1c0c"/>
<circle cx="387.5" cy="265.1" r="1.3" fill="#3e1c0c"/>
<circle cx="399.4" cy="281.0" r="1.1" fill="#3e1c0c"/>
<circle cx="382.2" cy="265.3" r="1.1" fill="#3e1c0c"/>
<circle cx="382.3" cy="275.4" r="0.7" fill="#3e1c0c"/>
<circle cx="405.4" cy="278.5" r="1.1" fill="#3e1c0c"/>
<circle cx="378.8" cy="268.8" r="0.9" fill="#3e1c0c"/>
<circle cx="391.5" cy="283.8" r="1.2" fill="#3e1c0c"/>
<circle cx="404.5" cy="275.8" r="0.8" fill="#3e1c0c"/>
<circle cx="393.9" cy="261.7" r="0.8" fill="#3e1c0c"/>
<circle cx="382.3" cy="279.8" r="1.1" fill="#3e1c0c"/>
<circle cx="383.4" cy="284.7" r="0.7" fill="#3e1c0c"/>
<circle cx="391.5" cy="281.4" r="0.7" fill="#3e1c0c"/>
<circle cx="395.2" cy="258.7" r="0.7" fill="#3e1c0c"/>
<circle cx="396.9" cy="283.3" r="1.1" fill="#3e1c0c"/>
<circle cx="398.4" cy="259.4" r="1.0" fill="#3e1c0c"/>
<circle cx="399.5" cy="281.7" r="0.7" fill="#3e1c0c"/>
<circle cx="380.0" cy="270.4" r="0.7" fill="#3e1c0c"/>
<circle cx="392.6" cy="287.2" r="0.6" fill="#3e1c0c"/>
<circle cx="397.7" cy="257.9" r="1.3" fill="#3e1c0c"/>
<circle cx="383.2" cy="281.1" r="1.0" fill="#3e1c0c"/>
<circle cx="381.7" cy="260.5" r="1.1" fill="#3e1c0c"/>
<circle cx="387.9" cy="287.2" r="0.9" fill="#3e1c0c"/>
<circle cx="381.2" cy="264.2" r="0.6" fill="#3e1c0c"/>
<circle cx="394.3" cy="259.1" r="0.9" fill="#3e1c0c"/>
<circle cx="380.8" cy="270.8" r="0.7" fill="#3e1c0c"/>
<circle cx="384.4" cy="271.1" r="1.0" fill="#3e1c0c"/>
<circle cx="385.4" cy="263.3" r="1.0" fill="#3e1c0c"/>
<circle cx="407.7" cy="268.6" r="0.7" fill="#3e1c0c"/>
<circle cx="396.1" cy="259.8" r="0.6" fill="#3e1c0c"/>
<circle cx="386.2" cy="280.3" r="0.7" fill="#3e1c0c"/>
<circle cx="377.2" cy="268.8" r="0.8" fill="#3e1c0c"/>
<circle cx="402.2" cy="262.5" r="0.7" fill="#3e1c0c"/>
<circle cx="400.8" cy="262.4" r="1.2" fill="#3e1c0c"/>
<circle cx="389.6" cy="258.6" r="0.8" fill="#3e1c0c"/>
<circle cx="398.2" cy="257.7" r="1.2" fill="#3e1c0c"/>
<circle cx="379.3" cy="278.2" r="0.9" fill="#3e1c0c"/>
<circle cx="399.1" cy="277.9" r="0.7" fill="#3e1c0c"/>
<circle cx="395.5" cy="281.5" r="0.9" fill="#3e1c0c"/>
<circle cx="388.7" cy="260.7" r="0.9" fill="#3e1c0c"/>
<circle cx="386.3" cy="264.1" r="0.9" fill="#3e1c0c"/>
<circle cx="393.1" cy="261.2" r="0.7" fill="#3e1c0c"/>
<circle cx="404.0" cy="264.3" r="0.9" fill="#3e1c0c"/>
<circle cx="384.0" cy="281.7" r="1.0" fill="#3e1c0c"/>
<circle cx="393.9" cy="280.5" r="0.7" fill="#3e1c0c"/>
<circle cx="394.5" cy="263.6" r="0.9" fill="#3e1c0c"/>
<circle cx="395.9" cy="281.8" r="0.7" fill="#3e1c0c"/>
<circle cx="384.8" cy="278.0" r="0.6" fill="#3e1c0c"/>
<circle cx="399.9" cy="278.6" r="0.9" fill="#3e1c0c"/>
<circle cx="400.2" cy="275.6" r="0.9" fill="#3e1c0c"/>
<circle cx="380.9" cy="280.3" r="0.6" fill="#3e1c0c"/>
<circle cx="383.3" cy="279.1" r="0.6" fill="#3e1c0c"/>
<circle cx="402.2" cy="270.5" r="0.7" fill="#3e1c0c"/>
<circle cx="383.3" cy="274.1" r="1.0" fill="#3e1c0c"/>
<circle cx="387.4" cy="280.0" r="0.6" fill="#3e1c0c"/>
<circle cx="391.2" cy="262.4" r="1.2" fill="#3e1c0c"/>
<circle cx="377.0" cy="276.0" r="0.8" fill="#3e1c0c"/>
<circle cx="392.6" cy="282.9" r="1.2" fill="#3e1c0c"/>
<circle cx="385.1" cy="264.7" r="0.7" fill="#3e1c0c"/>
<circle cx="385.9" cy="257.8" r="1.0" fill="#3e1c0c"/>
<circle cx="400.9" cy="272.8" r="0.7" fill="#3e1c0c"/>
<circle cx="396.6" cy="279.9" r="0.6" fill="#3e1c0c"/>
<circle cx="383.7" cy="259.7" r="0.7" fill="#3e1c0c"/>
<circle cx="404.5" cy="270.6" r="1.2" fill="#3e1c0c"/>
<circle cx="406.5" cy="264.7" r="0.6" fill="#3e1c0c"/>
<circle cx="388.2" cy="285.0" r="1.3" fill="#3e1c0c"/>
<circle cx="401.5" cy="278.1" r="1.2" fill="#3e1c0c"/>
<circle cx="401.1" cy="280.1" r="0.8" fill="#3e1c0c"/>
<circle cx="385.8" cy="258.2" r="0.7" fill="#3e1c0c"/>
<circle cx="391.7" cy="258.4" r="1.2" fill="#3e1c0c"/>
<circle cx="377.6" cy="267.4" r="0.9" fill="#3e1c0c"/>
<line x1="396.4" y1="273.8" x2="406.0" y2="276.7" stroke="#3fc6da" stroke-width="2.5" stroke-linecap="round"/>
<line x1="402.2" y1="275.6" x2="406.6" y2="271.9" stroke="#3fc6da" stroke-width="1.1" stroke-linecap="round"/>
<line x1="402.2" y1="275.6" x2="403.7" y2="281.1" stroke="#3fc6da" stroke-width="1.1" stroke-linecap="round"/>
<line x1="395.0" y1="275.8" x2="401.0" y2="283.8" stroke="#3fc6da" stroke-width="2.5" stroke-linecap="round"/>
<line x1="398.6" y1="280.6" x2="404.3" y2="280.3" stroke="#3fc6da" stroke-width="1.1" stroke-linecap="round"/>
<line x1="398.6" y1="280.6" x2="396.6" y2="286.0" stroke="#3fc6da" stroke-width="1.1" stroke-linecap="round"/>
<line x1="392.7" y1="276.6" x2="392.8" y2="286.6" stroke="#3fc6da" stroke-width="2.5" stroke-linecap="round"/>
<line x1="392.7" y1="282.6" x2="397.6" y2="285.7" stroke="#3fc6da" stroke-width="1.1" stroke-linecap="round"/>
<line x1="392.7" y1="282.6" x2="388.0" y2="285.8" stroke="#3fc6da" stroke-width="1.1" stroke-linecap="round"/>
<line x1="390.3" y1="275.9" x2="384.5" y2="284.0" stroke="#3fc6da" stroke-width="2.5" stroke-linecap="round"/>
<line x1="386.8" y1="280.8" x2="388.9" y2="286.1" stroke="#3fc6da" stroke-width="1.1" stroke-linecap="round"/>
<line x1="386.8" y1="280.8" x2="381.1" y2="280.6" stroke="#3fc6da" stroke-width="1.1" stroke-linecap="round"/>
<line x1="388.8" y1="273.9" x2="379.3" y2="277.1" stroke="#3fc6da" stroke-width="2.5" stroke-linecap="round"/>
<line x1="383.1" y1="275.8" x2="381.7" y2="281.4" stroke="#3fc6da" stroke-width="1.1" stroke-linecap="round"/>
<line x1="383.1" y1="275.8" x2="378.6" y2="272.3" stroke="#3fc6da" stroke-width="1.1" stroke-linecap="round"/>
<line x1="388.8" y1="271.4" x2="379.2" y2="268.5" stroke="#3fc6da" stroke-width="2.5" stroke-linecap="round"/>
<line x1="383.0" y1="269.6" x2="378.6" y2="273.3" stroke="#3fc6da" stroke-width="1.1" stroke-linecap="round"/>
<line x1="383.0" y1="269.6" x2="381.5" y2="264.1" stroke="#3fc6da" stroke-width="1.1" stroke-linecap="round"/>
<line x1="390.2" y1="269.4" x2="384.2" y2="261.4" stroke="#3fc6da" stroke-width="2.5" stroke-linecap="round"/>
<line x1="386.6" y1="264.6" x2="380.9" y2="264.9" stroke="#3fc6da" stroke-width="1.1" stroke-linecap="round"/>
<line x1="386.6" y1="264.6" x2="388.6" y2="259.2" stroke="#3fc6da" stroke-width="1.1" stroke-linecap="round"/>
<line x1="392.5" y1="268.6" x2="392.4" y2="258.6" stroke="#3fc6da" stroke-width="2.5" stroke-linecap="round"/>
<line x1="392.5" y1="262.6" x2="387.6" y2="259.5" stroke="#3fc6da" stroke-width="1.1" stroke-linecap="round"/>
<line x1="392.5" y1="262.6" x2="397.2" y2="259.4" stroke="#3fc6da" stroke-width="1.1" stroke-linecap="round"/>
<line x1="394.9" y1="269.3" x2="400.7" y2="261.2" stroke="#3fc6da" stroke-width="2.5" stroke-linecap="round"/>
<line x1="398.4" y1="264.4" x2="396.3" y2="259.1" stroke="#3fc6da" stroke-width="1.1" stroke-linecap="round"/>
<line x1="398.4" y1="264.4" x2="404.1" y2="264.6" stroke="#3fc6da" stroke-width="1.1" stroke-linecap="round"/>
<line x1="396.4" y1="271.3" x2="405.9" y2="268.1" stroke="#3fc6da" stroke-width="2.5" stroke-linecap="round"/>
<line x1="402.1" y1="269.4" x2="403.5" y2="263.8" stroke="#3fc6da" stroke-width="1.1" stroke-linecap="round"/>
<line x1="402.1" y1="269.4" x2="406.6" y2="272.9" stroke="#3fc6da" stroke-width="1.1" stroke-linecap="round"/>
<circle cx="392.6" cy="272.6" r="6.3" fill="#3fc6da"/>
<circle cx="392.6" cy="272.6" r="4.8" fill="#6e9e8c"/>
<ellipse cx="373.8" cy="309.7" rx="15.4" ry="14.6" fill="#f2eba2" stroke="#6a6a34" stroke-width="1"/>
<path d="M384.2,309.0 C384.2,309.6 381.4,310.5 381.2,311.3 C380.9,312.1 382.8,314.4 382.5,314.9 C382.1,315.5 379.3,314.7 378.6,315.3 C378.0,315.8 378.3,318.7 377.8,319.0 C377.2,319.3 375.2,317.1 374.4,317.2 C373.6,317.3 372.3,320.0 371.6,319.9 C371.0,319.8 370.5,316.9 369.8,316.5 C369.0,316.2 366.5,317.7 366.0,317.3 C365.5,316.9 366.7,314.2 366.2,313.5 C365.8,312.8 362.8,312.7 362.6,312.1 C362.5,311.5 364.9,309.8 364.9,309.0 C364.9,308.2 362.5,306.5 362.6,305.9 C362.8,305.3 365.8,305.2 366.2,304.5 C366.7,303.8 365.5,301.1 366.0,300.7 C366.5,300.3 369.0,301.8 369.8,301.5 C370.5,301.1 371.0,298.2 371.6,298.1 C372.3,298.0 373.6,300.7 374.4,300.8 C375.2,300.9 377.2,298.7 377.8,299.0 C378.3,299.3 378.0,302.2 378.6,302.7 C379.3,303.3 382.1,302.5 382.5,303.1 C382.8,303.6 380.9,305.9 381.2,306.7 C381.4,307.5 384.2,308.4 384.2,309.0Z" fill="#5ccde0" stroke="#2a8a9a" stroke-width="0.5"/>
<circle cx="373.5" cy="309" r="5.5" fill="#8ad8c8"/>
<circle cx="371.4" cy="306.4" r="3.8" fill="#e38a30"/>
<circle cx="378" cy="305.5" r="2.3" fill="#7a4e36"/>
<circle cx="376.5" cy="313" r="1.8" fill="#7a4e36"/>
<circle cx="382" cy="316" r="1" fill="#2a4a5a"/>
<path d="M418.9,281.5 C420.0,281.4 421.3,281.4 423.1,282.7 C424.9,284.0 426.0,286.4 428.0,288.2 C430.0,290.0 430.8,291.4 432.9,291.9 C435.0,292.4 436.3,291.3 438.4,290.6 C440.5,289.9 441.0,288.8 443.3,288.2 C445.6,287.6 448.4,287.1 450.0,287.6 C451.6,288.1 451.9,289.0 451.2,290.6 C450.5,292.2 447.6,293.9 446.3,295.5 C445.0,297.1 443.6,297.7 444.5,298.6 C445.4,299.5 449.5,299.1 450.6,299.8 C451.7,300.5 451.5,301.5 450.0,302.2 C448.5,302.9 445.4,302.3 443.3,303.4 C441.2,304.5 440.6,305.9 439.6,307.7 C438.6,309.5 438.3,309.9 438.4,312.6 C438.5,315.3 440.3,319.0 440.2,321.1 C440.1,323.2 439.4,324.0 437.8,323.0 C436.2,322.0 434.4,318.1 432.3,316.3 C430.2,314.5 429.6,313.8 427.4,313.8 C425.2,313.8 424.0,315.1 421.3,316.3 C418.6,317.5 415.7,319.7 414.0,319.9 C412.3,320.1 411.6,319.4 412.8,317.5 C414.0,315.6 419.4,312.0 420.1,310.2 C420.8,308.4 417.6,309.2 416.4,308.3 C415.2,307.4 413.5,306.9 414.0,305.9 C414.5,304.9 419.3,304.3 418.9,303.4 C418.5,302.5 414.7,302.3 412.1,301.6 C409.5,300.9 407.1,300.6 406.1,299.8 C405.1,299.0 405.5,298.1 407.3,297.4 C409.1,296.7 412.4,296.7 415.2,296.1 C418.0,295.5 420.1,295.9 421.3,294.3 C422.5,292.7 422.0,290.4 421.3,288.2 C420.6,286.0 418.1,284.6 417.6,283.3 C417.1,282.0 417.8,281.6 418.9,281.5Z" fill="#e6df6a" stroke="#4536b2" stroke-width="1.6"/>
<circle cx="431.1" cy="301.6" r="5.5" fill="#d78fcf"/>
<circle cx="431.1" cy="301.6" r="3.2" fill="#7a38d4"/>
<ellipse cx="441" cy="294.6" rx="2.6" ry="1.6" fill="#5a5440"/>
<circle cx="425" cy="296" r="0.7" fill="#a0904a"/>
<circle cx="436" cy="306" r="0.7" fill="#a0904a"/>
<circle cx="423" cy="309" r="0.7" fill="#a0904a"/>
<circle cx="433" cy="314" r="0.7" fill="#a0904a"/>
<circle cx="447" cy="300" r="0.7" fill="#a0904a"/>
<path d="M451.5,288.5 C456,284 460,283 463,281 C465,280 466,279 467.3,277.5" fill="none" stroke="#7a7a7a" stroke-width="0.8"/>
<path d="M452,290 C457,287 461,287 464,285.5 C466,284.5 468,284 469,283.5" fill="none" stroke="#7a7a7a" stroke-width="0.8"/>
</g>
<g id="bottle">
  <defs>
    <linearGradient id="bodyg" x1="0" y1="0" x2="0" y2="1">
      <stop offset="0" stop-color="#f7cf9c"/>
      <stop offset="0.6" stop-color="#f4b676"/>
      <stop offset="1" stop-color="#ec8c3c"/>
    </linearGradient>
  </defs>
  <!-- body -->
  <path d="M297,347 C295,360 295,378 296.5,392 C300,396 320,396.5 338.5,395 C342,380 342,362 341,346 Z" fill="url(#bodyg)" stroke="#141414" stroke-width="1.3"/>
  <path d="M297.2,350 C296,365 296,380 297.5,391" stroke="#111" stroke-width="2.6" fill="none"/>
  <path d="M340.5,350 C341.5,365 341,380 339,392" stroke="#111" stroke-width="2.2" fill="none"/>
  <!-- pills -->
  <g fill="#f6d7a6" stroke="#2a1a10" stroke-width="0.8">
    <path d="M317,355 C322,351 330,352 333,357 C331,361 322,361 317,360 Z"/>
    <path d="M318,362 C324,360 332,362 333,367 C330,371 321,370 318,368 Z"/>
    <path d="M317,371 C323,369 331,371 332,376 C329,380 321,379 317,377 Z"/>
    <path d="M317,380 C323,378 330,380 331,385 C327,388 320,387 317,386 Z"/>
  </g>
  <path d="M300,352 C305,350 312,350 316,353" stroke="#2a1a10" stroke-width="0.8" fill="none"/>
  <path d="M300,389 C306,391 314,391 320,389" stroke="#2a1a10" stroke-width="0.8" fill="none"/>
  <!-- label -->
  <path d="M298.5,356 L316,355.5 C317,366 317,377 316.3,387 L299.5,386 C298.5,376 298,366 298.5,356 Z" fill="#f7f7f5" stroke="#151515" stroke-width="1"/>
  <path d="M316,356 C317,366 317,377 316.3,387" stroke="#111" stroke-width="1.8" fill="none"/>
  <path d="M303,381 L303.5,367.5 C307,366 310.5,367.5 309.5,371 C308.5,374 305,374 303.5,373.5 M305.5,373.5 L311.5,382.5 M310.5,375 L307.5,381.5" stroke="#111" stroke-width="1.3" fill="none" stroke-linecap="round" stroke-linejoin="round"/>
  <!-- cap band -->
  <path d="M294,336 C294,343 294.5,346 296,347 C310,349.5 326,349.5 339.5,347.5 C341,345 341,340 341,333 Z" fill="#c4dde0" stroke="#141414" stroke-width="1.4"/>
  <path d="M296,344 C310,347 328,347 340,344.5" stroke="#e6f0f2" stroke-width="1.2" fill="none"/>
  <!-- cap top -->
  <path d="M295,333 C295,329 299,327.5 305,327 C318,326 330,326.5 337,327.5 C341,328.5 341.5,331 341,333 C338,336.5 326,337 317,337 C306,337 297,336 295,333 Z" fill="#f3f3f3" stroke="#141414" stroke-width="1.4"/>
  <path d="M298,338.5 V343 M300,338.8 V343.5 M302,339 V343.5" stroke="#333" stroke-width="0.6"/>
  <path d="M334,338.5 V343 M336,338.2 V342.8 M338,338 V342.5" stroke="#333" stroke-width="0.6"/>
</g>

</g>
<g stroke="#262626" stroke-width="1.1" fill="none">
  <path d="M186,79.5 H248"/>
  <path d="M340,35.5 H586.5 V59.5"/>
  <path d="M345,82.5 H399.5 V127"/>
  <path d="M399.5,179 V203"/>
  <path d="M586.5,198 V248.5 H487.5"/>
  <path d="M312.3,248.5 H202.5"/>
  <path d="M288.2,364.8 C250,355 230,310 229,270"/>
  <ellipse cx="109.1" cy="254.6" rx="78.9" ry="77.9"/>
</g>
<g fill="#1a1a1a">
  <path d="M252.5,79.5 L247.5,77 L247.5,82 Z"/>
  <path d="M586.5,64 L584,59 L589,59 Z"/>
  <path d="M399.5,131.5 L397,126.8 L402,126.8 Z"/>
  <path d="M399.5,207.5 L397,202.8 L402,202.8 Z"/>
  <path d="M483.2,248.5 L488,246 L488,251 Z"/>
  <path d="M198,248.5 L202.8,246 L202.8,251 Z"/>
  <path d="M228.5,265.5 L226.4,270.6 L231.3,270.4 Z"/>
</g>

<g>
<text x="185.7" y="20.7" font-size="10.3" textLength="65.9" lengthAdjust="spacingAndGlyphs"><tspan font-weight="bold">1.</tspan> Isolate DNA</text>
<text x="187.9" y="34.3" font-size="10.3" textLength="60.9" lengthAdjust="spacingAndGlyphs">from sample.</text>
<text x="189.3" y="47.8" font-size="10.3" textLength="59.2" lengthAdjust="spacingAndGlyphs">Extract DNA.</text>
<text x="182.2" y="61.3" font-size="10.3" textLength="72.8" lengthAdjust="spacingAndGlyphs">Remove human</text>
<text x="208.0" y="75.0" font-size="10.3" textLength="21.1" lengthAdjust="spacingAndGlyphs">DNA</text>
<text x="343.0" y="26.4" font-size="10.0" textLength="212.3" lengthAdjust="spacingAndGlyphs"><tspan font-weight="bold">2a.</tspan> 16S rRNA sequencing to identify microbes</text>
<text x="342.1" y="59.1" font-size="10.0" textLength="94.2" lengthAdjust="spacingAndGlyphs"><tspan font-weight="bold">2b.</tspan> Shotgun WGS to</text>
<text x="348.9" y="72.9" font-size="10.0" textLength="81.3" lengthAdjust="spacingAndGlyphs">identify microbes</text>
<text x="278.7" y="171.0" font-size="8.6" textLength="66.3" lengthAdjust="spacingAndGlyphs">Reference Based</text>
<text x="292.3" y="182.1" font-size="8.6" textLength="39.1" lengthAdjust="spacingAndGlyphs">Assembly</text>
<text x="427.2" y="170.7" font-size="8.6" textLength="73.3" lengthAdjust="spacingAndGlyphs"><tspan font-style="italic">De novo</tspan> Assembly</text>
<text x="67.5" y="224.6" font-size="13.5" textLength="82.2" lengthAdjust="spacingAndGlyphs">Assess known</text>
<text x="45.3" y="242.4" font-size="13.5" textLength="126.4" lengthAdjust="spacingAndGlyphs">interactions between</text>
<text x="40.3" y="259.2" font-size="13.5" textLength="136.4" lengthAdjust="spacingAndGlyphs">xenobiotic and specific</text>
<text x="60.2" y="277.5" font-size="13.5" textLength="97.0" lengthAdjust="spacingAndGlyphs">microbes before</text>
<text x="78.1" y="295.1" font-size="13.5" textLength="60.6" lengthAdjust="spacingAndGlyphs">treatment</text>
<text x="365.7" y="346.2" font-size="10.3" textLength="85.4" lengthAdjust="spacingAndGlyphs"><tspan font-weight="bold">3.</tspan> Identify relative</text>
<text x="363.9" y="359.9" font-size="10.3" textLength="88.7" lengthAdjust="spacingAndGlyphs">abundance of each</text>
<text x="376.6" y="372.8" font-size="10.3" textLength="63.1" lengthAdjust="spacingAndGlyphs">each microbe</text>
</g>
</svg>
</body></html>
